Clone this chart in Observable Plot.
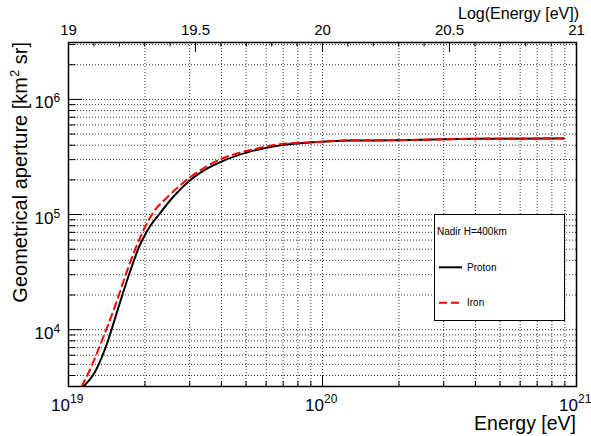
<!DOCTYPE html>
<html><head><meta charset="utf-8">
<script src="https://cdn.jsdelivr.net/npm/d3@7"></script>
<script src="https://cdn.jsdelivr.net/npm/@observablehq/plot@0.6"></script>
<style>
body{margin:0;background:#fff;}
#wrap{position:relative;width:591px;height:436px;font-family:"Liberation Sans",Arial,Helvetica,sans-serif;}
#legend{position:absolute;left:434px;top:214px;}
</style></head>
<body><div id="wrap"></div>
<script>
// Proton (black solid): log10(E/eV) and aperture [km^2 sr]
const protonLogE = [19.059, 19.098, 19.131, 19.157, 19.168, 19.189, 19.214, 19.240, 19.260, 19.274, 19.293, 19.323, 19.356, 19.417, 19.480, 19.547, 19.618, 19.704, 19.848, 19.979, 20.110, 20.294, 20.609, 20.950];
const protonAperture = [3214, 4074, 5754, 8222, 9772, 13800, 20650, 30900, 41210, 50120, 61660, 80350, 100000, 146200, 199500, 251200, 298500, 346700, 402700, 426600, 438500, 441600, 455000, 458100];
// Iron (red dashed)
const ironLogE = [19.052, 19.092, 19.125, 19.154, 19.184, 19.198, 19.224, 19.247, 19.261, 19.277, 19.303, 19.331, 19.389, 19.480, 19.598, 19.717, 19.848, 19.979, 20.110, 20.300, 20.610, 20.950];
const ironAperture = [3214, 4898, 7413, 10720, 16220, 19950, 29510, 40740, 48980, 59570, 79430, 102300, 141300, 211300, 302000, 363100, 412100, 426600, 441600, 443600, 456000, 459200];

// Axes
const xDomain = [1e19, 1e21];
const yDomain = [3210, 3.12e6];
const xMajor = [1e19, 1e20, 1e21];
const xExp = ["19", "20", "21"];
const xMinor = [2e19, 3e19, 4e19, 5e19, 6e19, 7e19, 8e19, 9e19, 2e20, 3e20, 4e20, 5e20, 6e20, 7e20, 8e20, 9e20];
const yMajor = [1e4, 1e5, 1e6];
const yExp = ["4", "5", "6"];
const yMinor = [4e3, 5e3, 6e3, 7e3, 8e3, 9e3, 2e4, 3e4, 4e4, 5e4, 6e4, 7e4, 8e4, 9e4, 2e5, 3e5, 4e5, 5e5, 6e5, 7e5, 8e5, 9e5, 2e6, 3e6];
const topMajor = [19, 19.5, 20, 20.5, 21];
const topLabels = ["19", "19.5", "20", "20.5", "21"];
const topMinor = [19.1, 19.2, 19.3, 19.4, 19.6, 19.7, 19.8, 19.9, 20.1, 20.2, 20.3, 20.4, 20.6, 20.7, 20.8, 20.9];

const W = 591, H = 436, ML = 68, MR = 15, MT = 42, MB = 50;
const FW = W - ML - MR, FH = H - MT - MB;
const font = '"Liberation Sans", Arial, Helvetica, sans-serif';

const proton = protonLogE.map((e, i) => ({E: 10 ** e, A: protonAperture[i]}));
const iron = ironLogE.map((e, i) => ({E: 10 ** e, A: ironAperture[i]}));
const grid = {stroke: "#000", strokeWidth: 0.8, strokeDasharray: "1,2"};

const chart = Plot.plot({
  width: W, height: H,
  marginLeft: ML, marginRight: MR, marginTop: MT, marginBottom: MB,
  style: {fontFamily: font, background: "#fff", color: "#000"},
  x: {type: "log", domain: xDomain, axis: null},
  y: {type: "log", domain: yDomain, axis: null},
  marks: [
    Plot.ruleX(xMinor.concat([1e20]), {x: d => d, ...grid}),
    Plot.ruleY(yMinor.concat(yMajor), {y: d => d, ...grid}),
    // bottom ticks
    Plot.tickX(xMajor, {x: d => d, insetTop: FH - 10, stroke: "#000", strokeWidth: 1}),
    Plot.tickX(xMinor, {x: d => d, insetTop: FH - 5, stroke: "#000", strokeWidth: 1}),
    // top ticks (log energy)
    Plot.tickX(topMajor, {x: d => 10 ** d, insetBottom: FH - 10, stroke: "#000", strokeWidth: 1}),
    Plot.tickX(topMinor, {x: d => 10 ** d, insetBottom: FH - 4.5, stroke: "#000", strokeWidth: 1}),
    // left ticks
    Plot.tickY(yMajor, {y: d => d, insetRight: FW - 14, stroke: "#000", strokeWidth: 1}),
    Plot.tickY(yMinor, {y: d => d, insetRight: FW - 7.5, stroke: "#000", strokeWidth: 1}),
    // curves
    Plot.line(proton, {x: "E", y: "A", stroke: "#000", strokeWidth: 2, curve: "monotone-x", clip: true}),
    Plot.line(iron, {x: "E", y: "A", stroke: "#ff0000", strokeWidth: 2, strokeDasharray: "7,5", curve: "monotone-x", clip: true}),
    Plot.frame({stroke: "#000", strokeWidth: 1.5}),
    // bottom labels 10^n
    Plot.text(xMajor, {x: d => d, frameAnchor: "bottom", text: () => "10", textAnchor: "end", lineAnchor: "bottom", dx: 1.5, dy: 24.5, fontSize: 17, fill: "#000"}),
    Plot.text(xMajor, {x: d => d, frameAnchor: "bottom", text: (d, i) => xExp[i], textAnchor: "start", lineAnchor: "bottom", dx: 1.5, dy: 16, fontSize: 12, fill: "#000"}),
    // left labels 10^n
    Plot.text(yMajor, {y: d => d, frameAnchor: "left", text: () => "10", textAnchor: "end", lineAnchor: "bottom", dx: -15, dy: 9, fontSize: 17, fill: "#000"}),
    Plot.text(yMajor, {y: d => d, frameAnchor: "left", text: (d, i) => yExp[i], textAnchor: "start", lineAnchor: "bottom", dx: -15, dy: 3, fontSize: 12, fill: "#000"}),
    // top labels (log energy)
    Plot.text(topMajor, {x: d => 10 ** d, frameAnchor: "top", text: (d, i) => topLabels[i], textAnchor: "middle", lineAnchor: "bottom", dy: -8, fontSize: 15, fill: "#000"})
  ]
});

const wrap = document.getElementById("wrap");
wrap.appendChild(chart);
const svg = d3.select(chart);
svg.append("text").attr("x", 576).attr("y", 430).attr("text-anchor", "end")
  .attr("font-size", 19.5).attr("fill", "#000").attr("font-family", font).text("Energy [eV]");
svg.append("text").attr("x", 579).attr("y", 19).attr("text-anchor", "end")
  .attr("font-size", 16).attr("fill", "#000").attr("font-family", font).text("Log(Energy [eV])");
const yt = svg.append("text").attr("transform", "translate(27,42) rotate(-90)")
  .attr("text-anchor", "end").attr("font-size", 20).attr("fill", "#000").attr("font-family", font);
yt.append("tspan").text("Geometrical aperture [km");
yt.append("tspan").attr("dy", -8).attr("font-size", 13).text("2");
yt.append("tspan").attr("dy", 8).text(" sr]");

// legend
const legend = d3.select(wrap).append("svg").attr("id", "legend").attr("width", 131).attr("height", 107);
legend.append("rect").attr("x", 0.5).attr("y", 0.5).attr("width", 130).attr("height", 106)
  .attr("fill", "#fff").attr("stroke", "#000").attr("stroke-width", 1);
legend.append("text").attr("x", 3).attr("y", 21).attr("font-size", 10).attr("font-family", font).attr("fill", "#000").text("Nadir H=400km");
legend.append("line").attr("x1", 5).attr("x2", 28).attr("y1", 53.3).attr("y2", 53.3).attr("stroke", "#000").attr("stroke-width", 2);
legend.append("text").attr("x", 33).attr("y", 57).attr("font-size", 10).attr("font-family", font).attr("fill", "#000").text("Proton");
legend.append("line").attr("x1", 5).attr("x2", 28).attr("y1", 88.7).attr("y2", 88.7).attr("stroke", "#ff0000").attr("stroke-width", 2).attr("stroke-dasharray", "8,4");
legend.append("text").attr("x", 33).attr("y", 91.7).attr("font-size", 10).attr("font-family", font).attr("fill", "#000").text("Iron");
</script>
</body></html>
